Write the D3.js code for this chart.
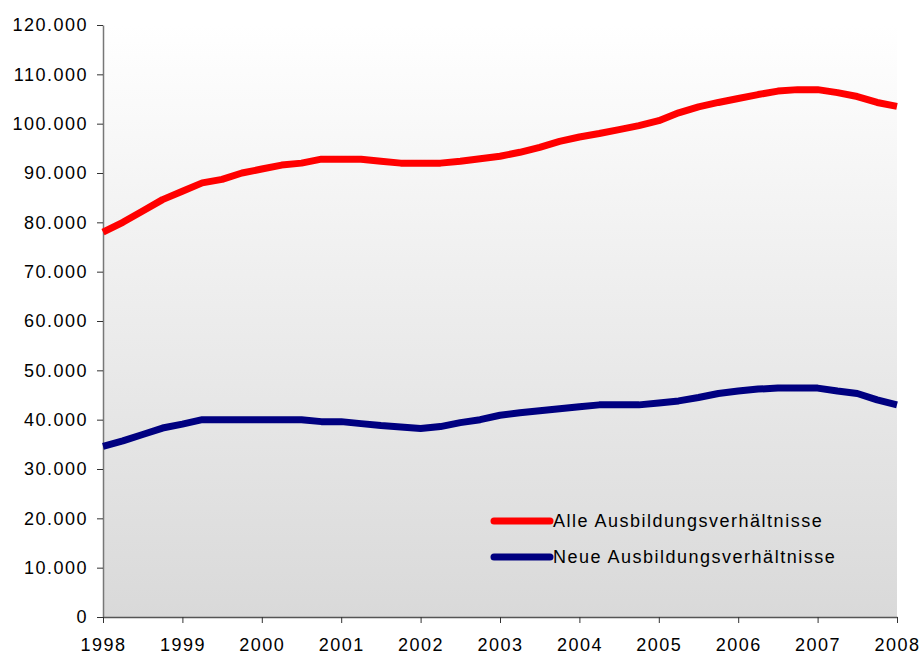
<!DOCTYPE html>
<html>
<head>
<meta charset="utf-8">
<script src="https://cdn.jsdelivr.net/npm/d3@7"></script>
<style>
  body { margin: 0; background: #fff; }
  text { font-family: "Liberation Sans", Arial, sans-serif; }
</style>
</head>
<body>
<svg id="chart"></svg>
<script>
const width = 922;
const height = 657;

// quarterly readings, 1998 Q1 .. 2008 Q1
const quarters = d3.range(0, 41).map(i => 1998 + i / 4);

const alleVerh = [
  78.0, 80.0, 82.3, 84.6, 86.3, 88.0, 88.7, 90.0, 90.8, 91.6,
  92.0, 92.8, 92.8, 92.8, 92.4, 92.0, 92.0, 92.0, 92.4, 92.9,
  93.4, 94.2, 95.2, 96.4, 97.3, 98.0, 98.8, 99.6, 100.6, 102.2,
  103.4, 104.3, 105.1, 105.9, 106.6, 106.9, 106.9, 106.3, 105.5, 104.3,
  103.5
].map(v => v * 1000);

const neueVerh = [
  34.6, 35.7, 37.0, 38.3, 39.1, 40.0, 40.0, 40.0, 40.0, 40.0,
  40.0, 39.6, 39.6, 39.2, 38.8, 38.5, 38.2, 38.6, 39.4, 40.0,
  40.9, 41.4, 41.8, 42.2, 42.6, 43.0, 43.0, 43.0, 43.4, 43.8,
  44.5, 45.3, 45.8, 46.2, 46.4, 46.4, 46.4, 45.8, 45.3, 44.0,
  43.0
].map(v => v * 1000);

const seriesNames = ["Alle Ausbildungsverhältnisse", "Neue Ausbildungsverhältnisse"];
const seriesColors = ["#ff0000", "#000080"];
const yTicks = d3.range(0, 120001, 10000);
const xTicks = d3.range(1998, 2009);

const margin = { top: 25, right: 25, bottom: 40, left: 103 };
const innerW = width - margin.left - margin.right;
const innerH = height - margin.top - margin.bottom;

const svg = d3.select("#chart")
  .attr("width", width)
  .attr("height", height);

const de = d3.formatLocale({ decimal: ",", thousands: ".", grouping: [3], currency: ["", " €"] });
const fmt = de.format(",");

const x = d3.scaleLinear().domain([1998, 2008]).range([0, innerW]);
const y = d3.scaleLinear().domain([0, 120000]).range([innerH, 0]);

// background gradient
const grad = svg.append("defs").append("linearGradient")
  .attr("id", "bg")
  .attr("x1", 0).attr("y1", 0).attr("x2", 0).attr("y2", 1);
grad.append("stop").attr("offset", "0%").attr("stop-color", "#ffffff");
grad.append("stop").attr("offset", "100%").attr("stop-color", "#d9d9d9");

const g = svg.append("g")
  .attr("transform", `translate(${margin.left},${margin.top})`);

g.append("rect")
  .attr("width", innerW)
  .attr("height", innerH)
  .attr("fill", "url(#bg)");

// Y axis
const yAxis = g.append("g")
  .call(d3.axisLeft(y).tickValues(yTicks).tickFormat(fmt).tickSize(6).tickSizeOuter(0));
yAxis.select(".domain").attr("stroke", "#777").attr("stroke-width", 1.5);
yAxis.selectAll(".tick line").attr("stroke", "#333");
yAxis.selectAll("text")
  .attr("font-size", 18)
  .attr("letter-spacing", 1.5)
  .attr("fill", "#000")
  .attr("x", -15);

// X axis
const xAxis = g.append("g")
  .attr("transform", `translate(0,${innerH})`)
  .call(d3.axisBottom(x).tickValues(xTicks).tickFormat(d3.format("d")).tickSize(6).tickSizeOuter(0));
xAxis.select(".domain").attr("stroke", "#555").attr("stroke-width", 1.5);
xAxis.selectAll(".tick line").attr("stroke", "#333");
xAxis.selectAll("text")
  .attr("font-size", 18)
  .attr("letter-spacing", 1.5)
  .attr("fill", "#000")
  .attr("y", 21);

// Lines
const line = d3.line()
  .x((d, i) => x(quarters[i]))
  .y(d => y(d));

[alleVerh, neueVerh].forEach((s, i) => {
  g.append("path")
    .datum(s)
    .attr("fill", "none")
    .attr("stroke", seriesColors[i])
    .attr("stroke-width", 7)
    .attr("stroke-linejoin", "round")
    .attr("d", line);
});

// Legend
const legend = svg.append("g").attr("transform", "translate(494,521)");
seriesNames.forEach((name, i) => {
  const row = legend.append("g").attr("transform", `translate(0,${i * 36})`);
  row.append("line")
    .attr("x1", 0).attr("x2", 56)
    .attr("stroke", seriesColors[i])
    .attr("stroke-width", 7)
    .attr("stroke-linecap", "round");
  row.append("text")
    .attr("x", 59)
    .attr("dy", "0.35em")
    .attr("font-size", 18)
    .attr("letter-spacing", 1.5)
    .attr("fill", "#000")
    .text(name);
});
</script>
</body>
</html>
